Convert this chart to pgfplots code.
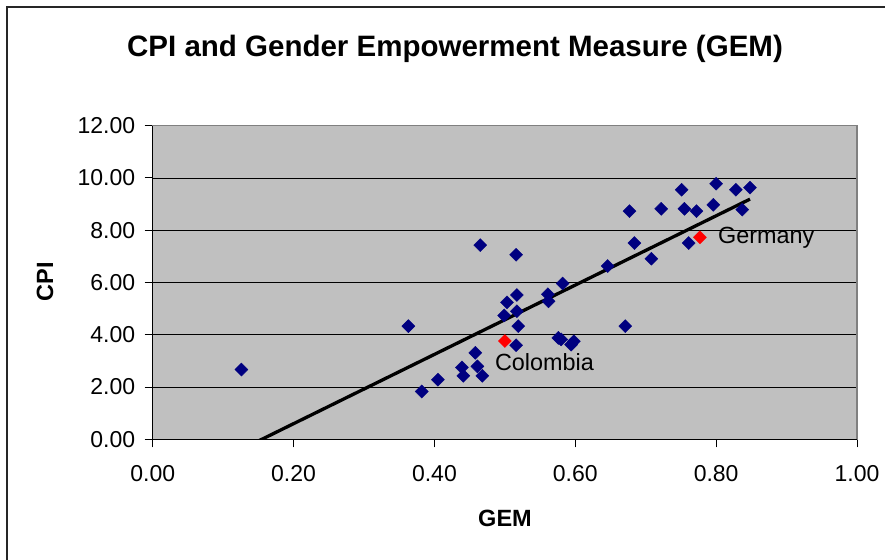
\documentclass[border=0pt]{standalone}
\usepackage{fontspec}
\setmainfont{Liberation Sans}
\usepackage{pgfplots}
\pgfplotsset{compat=1.18}
\definecolor{plotgray}{HTML}{C0C0C0}
\definecolor{navy}{HTML}{000080}
\definecolor{framegray}{HTML}{808080}

\begin{document}
\begin{tikzpicture}[x=1bp,y=1bp]
\useasboundingbox (0,0) rectangle (885,560);
\fill[white] (0,0) rectangle (885,560);
% chart area frame
\draw[line width=1.3bp, black!85] (7,0) -- (7,553) -- (885,553);
% title and axis titles
\node[font=\fontsize{29.5bp}{34bp}\selectfont\bfseries] at (455,511) {CPI and Gender Empowerment Measure (GEM)};
\node[font=\fontsize{23.5bp}{27bp}\selectfont\bfseries] at (505,42) {GEM};
\node[font=\fontsize{23.5bp}{27bp}\selectfont\bfseries, rotate=90] at (45,278) {CPI};
\begin{axis}[
  at={(152.7bp,120.7bp)}, anchor=south west,
  scale only axis, width=704.3bp, height=313.6bp,
  xmin=0, xmax=1, ymin=0, ymax=12,
  xtick={0,0.2,0.4,0.6,0.8,1}, ytick={0,2,4,6,8,10,12},
  xtick pos=bottom, ytick pos=left,
  tick align=outside, major tick length=8bp,
  tick style={black, line width=1bp},
  axis line style={framegray, line width=1.5bp},
  axis background/.style={fill=plotgray},
  ymajorgrids, grid style={black, line width=0.8bp},
  tick label style={font=\fontsize{23bp}{27bp}\selectfont},
  xticklabel style={yshift=-15bp},
  yticklabel style={xshift=-6bp},
  /pgf/number format/.cd, fixed, fixed zerofill, precision=2, assume math mode=true,
]
% countries
\addplot[only marks, mark=square*, mark size=4.6bp,
  mark options={rotate=45, fill=navy, draw=navy}] table {
x y
0.126 2.67
0.363 4.33
0.382 1.83
0.405 2.28
0.439 2.75
0.441 2.43
0.458 3.31
0.461 2.79
0.468 2.43
0.465 7.43
0.516 7.06
0.517 5.52
0.503 5.24
0.499 4.74
0.517 4.90
0.519 4.33
0.516 3.60
0.561 5.55
0.562 5.28
0.582 5.96
0.576 3.88
0.580 3.82
0.594 3.62
0.598 3.75
0.646 6.63
0.671 4.33
0.677 8.73
0.684 7.51
0.708 6.91
0.722 8.82
0.751 9.55
0.755 8.82
0.772 8.73
0.761 7.51
0.796 8.97
0.800 9.78
0.828 9.55
0.848 9.63
0.837 8.79
};
% linear trend line
\addplot[black, line width=3.3bp, no marks] coordinates {(0.126,-0.384) (0.848,9.189)};
% highlighted countries
\addplot[only marks, mark=square*, mark size=4.6bp,
  mark options={rotate=45, fill=red, draw=red}] coordinates {(0.500,3.76) (0.777,7.73)};
\node[anchor=west, font=\fontsize{23.4bp}{28bp}\selectfont, inner sep=0pt, xshift=-10bp, yshift=-21bp] at (axis cs:0.500,3.76) {Colombia};
\node[anchor=west, font=\fontsize{23.4bp}{28bp}\selectfont, inner sep=0pt, xshift=18bp] at (axis cs:0.777,7.73) {Germany};
\end{axis}
% black axis lines on the left and bottom
\draw[black, line width=1.2bp] (152.7,560-125.7) -- (152.7,120.7) -- (857,120.7);
\end{tikzpicture}
\end{document}
